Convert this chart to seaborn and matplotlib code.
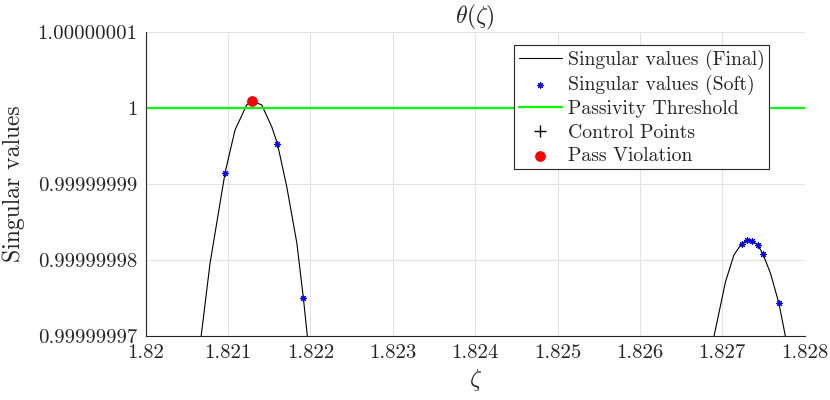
import numpy as np
import pandas as pd
import matplotlib
matplotlib.use("Agg")
import matplotlib.pyplot as plt
import seaborn as sns

# frequency axis and singular values, stored as offset from 1 in units of 1e-8
final_seg = [0] * 13 + [1] * 11
final_x = [1.820672, 1.820781, 1.820964, 1.821085, 1.821227, 1.821288, 1.821409,
           1.821531, 1.821599, 1.821713, 1.821835, 1.821915, 1.821964,
           1.826897, 1.827039, 1.827140, 1.827233, 1.827303, 1.827363, 1.827431,
           1.827492, 1.827585, 1.827686, 1.827768]
final_d = [-3.02, -2.05, -0.854, -0.29, 0.04, 0.09, 0.04,
           -0.25, -0.47, -1.04, -1.78, -2.51, -3.02,
           -3.02, -2.29, -1.94, -1.79, -1.74, -1.75, -1.81,
           -1.92, -2.18, -2.57, -3.02]

soft_x = [1.820964, 1.821599, 1.821915,
          1.827233, 1.827303, 1.827363, 1.827431, 1.827492, 1.827686]
soft_d = [-0.854, -0.47, -2.51, -1.79, -1.74, -1.75, -1.81, -1.92, -2.57]

control_x = []
control_d = []

viol_x = [1.821288]
viol_d = [0.09]

threshold = 1.0

xticks = [1.820, 1.821, 1.822, 1.823, 1.824, 1.825, 1.826, 1.827, 1.828]
xtick_labels = ["1.82", "1.821", "1.822", "1.823", "1.824", "1.825", "1.826", "1.827", "1.828"]
ytick_d = [-3, -2, -1, 0, 1]
ytick_labels = ["0.99999997", "0.99999998", "0.99999999", "1", "1.00000001"]


def sv(d):
    return [1.0 + v * 1e-8 for v in d]


sns.set_style("white")
plt.rcParams["font.family"] = ["cmr10", "DejaVu Serif"]
plt.rcParams["mathtext.fontset"] = "cm"
plt.rcParams["axes.unicode_minus"] = False

fig, ax = plt.subplots(figsize=(8.3, 4), dpi=100)
fig.subplots_adjust(left=0.1755, right=0.9695, top=0.92, bottom=0.161)

df_final = pd.DataFrame({"x": final_x, "y": sv(final_d), "seg": final_seg})
sns.lineplot(data=df_final, x="x", y="y", units="seg", estimator=None, sort=False,
             color="black", linewidth=0.8, ax=ax, label="Singular values (Final)")

sns.scatterplot(x=soft_x, y=sv(soft_d), marker=(8, 2, 0), color="blue",
                s=18, linewidth=0.8, ax=ax, label="Singular values (Soft)", zorder=3)

ax.axhline(threshold, color=(0, 1, 0), linewidth=1.6, label="Passivity Threshold", zorder=2)

ax.plot(control_x, sv(control_d), "+", color="black", markersize=9, label="Control Points")

sns.scatterplot(x=viol_x, y=sv(viol_d), color="red", s=50, edgecolor="red",
                ax=ax, label="Pass Violation", zorder=4)

ax.set_xlim(xticks[0], xticks[-1])
ax.set_ylim(1 + ytick_d[0] * 1e-8, 1 + ytick_d[-1] * 1e-8)
ax.set_xticks(xticks)
ax.set_xticklabels(xtick_labels, fontsize=15)
ax.set_yticks(sv(ytick_d))
ax.set_yticklabels(ytick_labels, fontsize=15)

ax.grid(True, color="#e3e3e3", linewidth=0.8)
ax.set_axisbelow(True)
ax.tick_params(direction="in", length=5, width=0.8, color="#262626", pad=6)
sns.despine(ax=ax)
for side in ["left", "bottom"]:
    ax.spines[side].set_color("#262626")
    ax.spines[side].set_linewidth(0.8)

ax.set_xlabel(r"$\zeta$", fontsize=17)
ax.set_ylabel("Singular values", fontsize=17, labelpad=9)
ax.set_title(r"$\theta(\zeta)$", fontsize=17)

# lineplot with units adds one legend entry per segment; keep the first of each label
handles, labels = ax.get_legend_handles_labels()
uniq = {}
for h, l in zip(handles, labels):
    uniq.setdefault(l, h)

leg = ax.legend(uniq.values(), uniq.keys(), loc="upper right",
                bbox_to_anchor=(0.946, 0.957), fontsize=14.2,
                frameon=True, fancybox=False, framealpha=1, edgecolor="#262626",
                borderpad=0.22, labelspacing=0.27, handlelength=2.2, handletextpad=0.3,
                borderaxespad=0)
leg.get_frame().set_linewidth(0.8)

fig.savefig("out.png", dpi=100)
